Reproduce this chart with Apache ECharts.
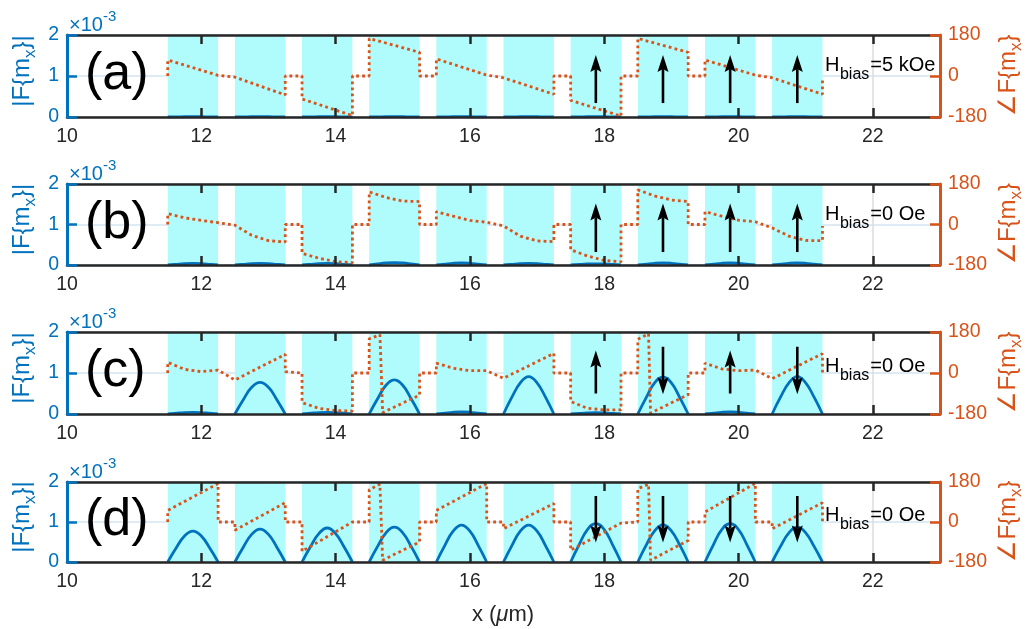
<!DOCTYPE html>
<html><head><meta charset="utf-8">
<script src="https://cdn.jsdelivr.net/npm/echarts@6/dist/echarts.min.js"></script>
<style>html,body{margin:0;padding:0;background:#fff}#c{width:1032px;height:629px}</style>
</head><body><div id="c"></div>
<script>
// ---------------- data ----------------
const xTicks = [10, 12, 14, 16, 18, 20, 22];
const magTicks = [0, 1, 2];
const phaseTicks = [-180, 0, 180];
const stripeStart = [11.5, 12.5, 13.5, 14.5, 15.5, 16.5, 17.5, 18.5, 19.5, 20.5];
const stripeEnd   = [12.25, 13.25, 14.25, 15.25, 16.25, 17.25, 18.25, 19.25, 20.25, 21.25];
const bumpOffsets = [0, 0.125, 0.25, 0.375, 0.5, 0.625, 0.75];

const magA = [
  [0,0.003,0.006,0.007,0.006,0.003,0],[0,0.003,0.006,0.007,0.006,0.003,0],
  [0,0.003,0.006,0.007,0.006,0.003,0],[0,0.003,0.006,0.007,0.006,0.003,0],
  [0,0.003,0.006,0.007,0.006,0.003,0],[0,0.003,0.006,0.007,0.006,0.003,0],
  [0,0.003,0.006,0.007,0.006,0.003,0],[0,0.003,0.006,0.007,0.006,0.003,0],
  [0,0.003,0.006,0.007,0.006,0.003,0],[0,0.003,0.006,0.007,0.006,0.003,0]
];
const magB = [
  [0,0.018,0.034,0.04,0.034,0.018,0],[0,0.018,0.034,0.04,0.034,0.018,0],
  [0,0.018,0.034,0.04,0.034,0.018,0],[0,0.027,0.05,0.06,0.05,0.027,0],
  [0,0.022,0.042,0.05,0.042,0.022,0],[0,0.018,0.034,0.04,0.034,0.018,0],
  [0,0.014,0.025,0.03,0.025,0.014,0],[0,0.022,0.042,0.05,0.042,0.022,0],
  [0,0.022,0.042,0.05,0.042,0.022,0],[0,0.022,0.042,0.05,0.042,0.022,0]
];
const magC = [
  [0,0.018,0.034,0.04,0.034,0.018,0],[0,0.35,0.65,0.77,0.65,0.35,0],
  [0,0.018,0.034,0.04,0.034,0.018,0],[0,0.37,0.70,0.83,0.70,0.37,0],
  [0,0.022,0.042,0.05,0.042,0.022,0],[0,0.41,0.76,0.91,0.76,0.41,0],
  [0,0.014,0.025,0.03,0.025,0.014,0],[0,0.40,0.76,0.90,0.76,0.40,0],
  [0,0.022,0.042,0.05,0.042,0.022,0],[0,0.41,0.76,0.91,0.76,0.41,0]
];
const magD = [
  [0,0.35,0.65,0.77,0.65,0.35,0],[0,0.37,0.69,0.82,0.69,0.37,0],
  [0,0.38,0.71,0.85,0.71,0.38,0],[0,0.39,0.73,0.87,0.73,0.39,0],
  [0,0.41,0.77,0.92,0.77,0.41,0],[0,0.41,0.77,0.92,0.77,0.41,0],
  [0,0.43,0.81,0.96,0.81,0.43,0],[0,0.42,0.78,0.93,0.78,0.42,0],
  [0,0.43,0.81,0.96,0.81,0.43,0],[0,0.39,0.73,0.87,0.73,0.39,0]
];

const phaseA = [[11.5,0],[11.5,70],[12.25,3],[12.5,-5],[13.25,-83],[13.25,0],[13.5,0],[13.5,-101],[14.25,-174],[14.25,0],[14.5,0],[14.5,165],[15.25,104],[15.25,0],[15.5,0],[15.5,75],[16.25,4],[16.5,-8],[17.25,-80],[17.25,0],[17.5,0],[17.5,-107],[18.25,-176],[18.25,0],[18.5,0],[18.5,165],[19.25,104],[19.25,0],[19.5,0],[19.5,70],[20.25,4],[20.5,-8],[21.25,-80],[21.25,-6]];
const phaseB = [[11.5,0],[11.5,48],[11.75,30],[12.0,18],[12.25,8],[12.5,-3],[12.75,-48],[13.0,-72],[13.25,-78],[13.25,0],[13.5,0],[13.5,-128],[13.75,-150],[14.0,-165],[14.25,-170],[14.25,0],[14.5,0],[14.5,145],[14.75,120],[15.0,104],[15.25,102],[15.25,0],[15.5,0],[15.5,57],[15.75,37],[16.0,18],[16.25,10],[16.5,-6],[16.75,-52],[17.0,-73],[17.25,-76],[17.25,0],[17.5,0],[17.5,-112],[17.75,-140],[18.0,-160],[18.25,-166],[18.25,0],[18.5,0],[18.5,154],[18.75,127],[19.0,109],[19.25,102],[19.25,0],[19.5,0],[19.5,57],[19.75,37],[20.0,19],[20.25,12],[20.5,-15],[20.75,-52],[21.0,-71],[21.25,-72],[21.25,-7]];
const phaseC = [[11.5,0],[11.5,47],[11.75,16],[12.0,6],[12.25,13],[12.5,-31],[13.25,82],[13.25,6],[13.5,0],[13.5,-130],[13.75,-155],[14.0,-165],[14.25,-167],[14.25,0],[14.5,0],[14.5,150],[14.66,168],[14.7,-174],[15.25,-97],[15.25,0],[15.5,0],[15.5,43],[15.75,21],[16.0,10],[16.25,10],[16.5,-23],[17.25,86],[17.25,0],[17.5,0],[17.5,-125],[17.75,-155],[18.0,-162],[18.25,-162],[18.25,0],[18.5,0],[18.5,148],[18.66,172],[18.69,-176],[19.25,-95],[19.25,0],[19.5,0],[19.5,43],[19.75,18],[20.0,10],[20.25,13],[20.5,-25],[21.25,85],[21.25,0]];
const phaseD = [[11.5,0],[11.5,52],[12.25,173],[12.25,0],[12.5,0],[12.5,-37],[13.25,87],[13.25,0],[13.5,0],[13.5,-132],[14.25,0],[14.5,0],[14.5,145],[14.66,170],[14.7,-172],[15.25,-90],[15.25,0],[15.5,0],[15.5,52],[16.25,173],[16.25,0],[16.5,0],[16.5,-30],[17.25,83],[17.25,0],[17.5,0],[17.5,-127],[18.25,-5],[18.5,0],[18.5,150],[18.66,170],[18.69,-172],[19.25,-83],[19.25,0],[19.5,0],[19.5,45],[20.25,174],[20.25,0],[20.5,0],[20.5,-30],[21.25,87],[21.25,0]];

const arrowX = [17.875, 18.875, 19.875, 20.875];
const arrowFromA = [0.34, 0.34, 0.34, 0.34], arrowToA = [1.51, 1.51, 1.51, 1.51];
const arrowFromB = [0.32, 0.32, 0.32, 0.32], arrowToB = [1.52, 1.52, 1.52, 1.52];
const arrowFromC = [0.50, 1.64, 0.50, 1.64], arrowToC = [1.55, 0.48, 1.55, 0.48];
const arrowFromD = [1.65, 1.65, 1.65, 1.65], arrowToD = [0.49, 0.49, 0.49, 0.49];

const panelLabels = ['(a)', '(b)', '(c)', '(d)'];
const fieldLabels = ['=5 kOe', '=0 Oe', '=0 Oe', '=0 Oe'];

// ---------------- styling / layout ----------------
const FONT = '"Liberation Sans", Arial, Helvetica, sans-serif';
const BLUE = '#0072BD', ORANGE = '#D95319', DARK = '#262626', CYAN = '#b0fbfb';
const tops = [35, 184, 332, 482], heights = [82, 81, 82, 80];
const hbOffset = [30, 30, 34, 33];
const mags = [magA, magB, magC, magD];
const phases = [phaseA, phaseB, phaseC, phaseD];
const arrFrom = [arrowFromA, arrowFromB, arrowFromC, arrowFromD];
const arrTo = [arrowToA, arrowToB, arrowToC, arrowToD];

const mctx = document.createElement('canvas').getContext('2d');
function tw(t, s, it) { mctx.font = (it ? 'italic ' : '') + s + 'px ' + FONT; return mctx.measureText(t).width; }
function multiText(x, y, parts, color, opt) {
  opt = opt || {};
  const w = parts.map(p => tw(p.t, p.s, p.i));
  const total = w.reduce((a, b) => a + b, 0) + parts.reduce((a, p) => a + (p.gap || 0), 0);
  let cx = opt.align === 'center' ? -total / 2 : 0;
  const children = parts.map((p, i) => {
    cx += p.gap || 0;
    const el = { type: 'text', x: cx, y: p.dy || 0, z: 20,
      style: { text: p.t, fontSize: p.s, fontFamily: FONT, fontStyle: p.i ? 'italic' : 'normal',
        fill: color, textAlign: 'left', textVerticalAlign: 'middle' } };
    cx += w[i];
    return el;
  });
  return { type: 'group', x: x, y: y, rotation: opt.rot || 0, z: 20, silent: true, children: children };
}

function bumpData(mag) {
  const out = [];
  mag.forEach((vals, k) => {
    vals.forEach((v, j) => out.push([stripeStart[k] + bumpOffsets[j], v]));
    out.push([stripeEnd[k] + 0.1, null]);
  });
  return out;
}

const grids = [], xAxes = [], yAxes = [], series = [], graphics = [];
for (let g = 0; g < 4; g++) {
  grids.push({ left: 67, right: 92, top: tops[g], height: heights[g] });
  const xBase = { gridIndex: g, type: 'value', min: 10, max: 23, interval: 2 };
  const xLine = { show: true, onZero: false, lineStyle: { color: DARK, width: 2.5 } };
  const xTick = { show: true, inside: true, length: 9, customValues: xTicks, lineStyle: { color: DARK, width: 2.5 } };
  xAxes.push(Object.assign({}, xBase, { position: 'bottom', z: 6, axisLine: xLine, axisTick: xTick,
    axisLabel: { show: true, customValues: xTicks, margin: 10, color: DARK, fontSize: 19.5, fontFamily: FONT,
      formatter: v => (v === 23 ? '' : String(v)) },
    splitLine: { show: false } }));
  xAxes.push(Object.assign({}, xBase, { position: 'top', z: 6, axisLine: xLine, axisTick: xTick,
    axisLabel: { show: false }, splitLine: { show: false } }));
  xAxes.push(Object.assign({}, xBase, { position: 'bottom', z: 0, axisLine: { show: false }, axisTick: { show: false },
    axisLabel: { show: false }, splitLine: { show: true, lineStyle: { color: '#dcdcdc', width: 1.5 } } }));

  yAxes.push({ gridIndex: g, type: 'value', min: 0, max: 2, interval: 1, position: 'left', z: 7,
    axisLine: { show: true, onZero: false, lineStyle: { color: BLUE, width: 3 } },
    axisTick: { show: true, inside: true, length: 10, lineStyle: { color: BLUE, width: 2.5 } },
    axisLabel: { color: BLUE, fontSize: 19.5, margin: 8, fontFamily: FONT },
    splitLine: { show: false } });
  yAxes.push({ gridIndex: g, type: 'value', min: -180, max: 180, interval: 180, position: 'right', z: 7,
    axisLine: { show: true, onZero: false, lineStyle: { color: ORANGE, width: 3 } },
    axisTick: { show: true, inside: true, length: 10, lineStyle: { color: ORANGE, width: 2.5 } },
    axisLabel: { color: ORANGE, fontSize: 19.5, margin: 8, fontFamily: FONT },
    splitLine: { show: false } });
  yAxes.push({ gridIndex: g, type: 'value', min: 0, max: 2, interval: 1, position: 'left', z: 0,
    axisLine: { show: false }, axisTick: { show: false }, axisLabel: { show: false },
    splitLine: { show: true, lineStyle: { color: '#d3e4f1', width: 1.5 } } });

  // cyan stripes
  series.push({ type: 'custom', xAxisIndex: 3 * g, yAxisIndex: 3 * g, z: 1, silent: true, clip: true,
    data: stripeStart.map((s, i) => [s, stripeEnd[i]]),
    renderItem: (params, api) => {
      const p0 = api.coord([api.value(0), magTicks[2]]);
      const p1 = api.coord([api.value(1), magTicks[0]]);
      return { type: 'rect', shape: { x: p0[0], y: p0[1], width: p1[0] - p0[0], height: p1[1] - p0[1] },
        style: { fill: CYAN } };
    } });
  // |F{mx}|
  series.push({ type: 'line', xAxisIndex: 3 * g, yAxisIndex: 3 * g, z: 3, silent: true,
    data: bumpData(mags[g]), smooth: 0.45, showSymbol: false, symbol: 'none', connectNulls: false,
    lineStyle: { color: BLUE, width: 2.8 } });
  // phase
  series.push({ type: 'line', xAxisIndex: 3 * g, yAxisIndex: 3 * g + 1, z: 4, silent: true,
    data: phases[g], showSymbol: false, symbol: 'none',
    lineStyle: { color: ORANGE, width: 2.8, type: [2.8, 3.2], cap: 'butt' } });
  // arrows
  series.push({ type: 'custom', xAxisIndex: 3 * g, yAxisIndex: 3 * g, z: 5, silent: true, clip: false,
    data: arrowX.map((x, i) => [x, arrFrom[g][i], arrTo[g][i]]),
    renderItem: (params, api) => {
      const a = api.coord([api.value(0), api.value(1)]);
      const b = api.coord([api.value(0), api.value(2)]);
      const d = b[1] > a[1] ? 1 : -1;
      const L = 17, W = 5.5, N = 14;
      return { type: 'group', children: [
        { type: 'line', shape: { x1: a[0], y1: a[1], x2: b[0], y2: b[1] - d * N }, style: { stroke: '#000', lineWidth: 2.6 } },
        { type: 'polygon', shape: { points: [[b[0], b[1]], [b[0] - W, b[1] - d * L], [b[0], b[1] - d * N], [b[0] + W, b[1] - d * L]] },
          style: { fill: '#000' } }
      ] };
    } });

  const mid = tops[g] + heights[g] / 2;
  graphics.push(multiText(85, mid - 1, [{ t: panelLabels[g], s: 52 }], '#000'));
  graphics.push(multiText(69, tops[g] - 10, [{ t: '\u00d710', s: 20 }, { t: '-3', s: 15, dy: -8 }], BLUE));
  graphics.push(multiText(825, tops[g] + hbOffset[g], [{ t: 'H', s: 20 }, { t: 'bias', s: 16, dy: 10, gap: 0.5 }, { t: fieldLabels[g], s: 20, gap: 1 }], '#000'));
  graphics.push(multiText(22, mid - 5, [{ t: '|F{m', s: 24 }, { t: 'x', s: 17, dy: 8 }, { t: '}|', s: 24 }], BLUE, { align: 'center', rot: Math.PI / 2 }));
  graphics.push(multiText(1008, mid - 1, [{ t: '\u2220F{m', s: 24 }, { t: 'x', s: 17, dy: 8 }, { t: '}', s: 24 }], ORANGE, { align: 'center', rot: Math.PI / 2 }));
}
graphics.push(multiText(503, 615, [{ t: 'x (', s: 22 }, { t: '\u03bc', s: 22, i: true }, { t: 'm)', s: 22 }], DARK, { align: 'center' }));

const chart = echarts.init(document.getElementById('c'), null, { renderer: 'canvas' });
chart.setOption({
  animation: false,
  backgroundColor: '#fff',
  grid: grids, xAxis: xAxes, yAxis: yAxes, series: series,
  graphic: { elements: graphics }
});
</script></body></html>
